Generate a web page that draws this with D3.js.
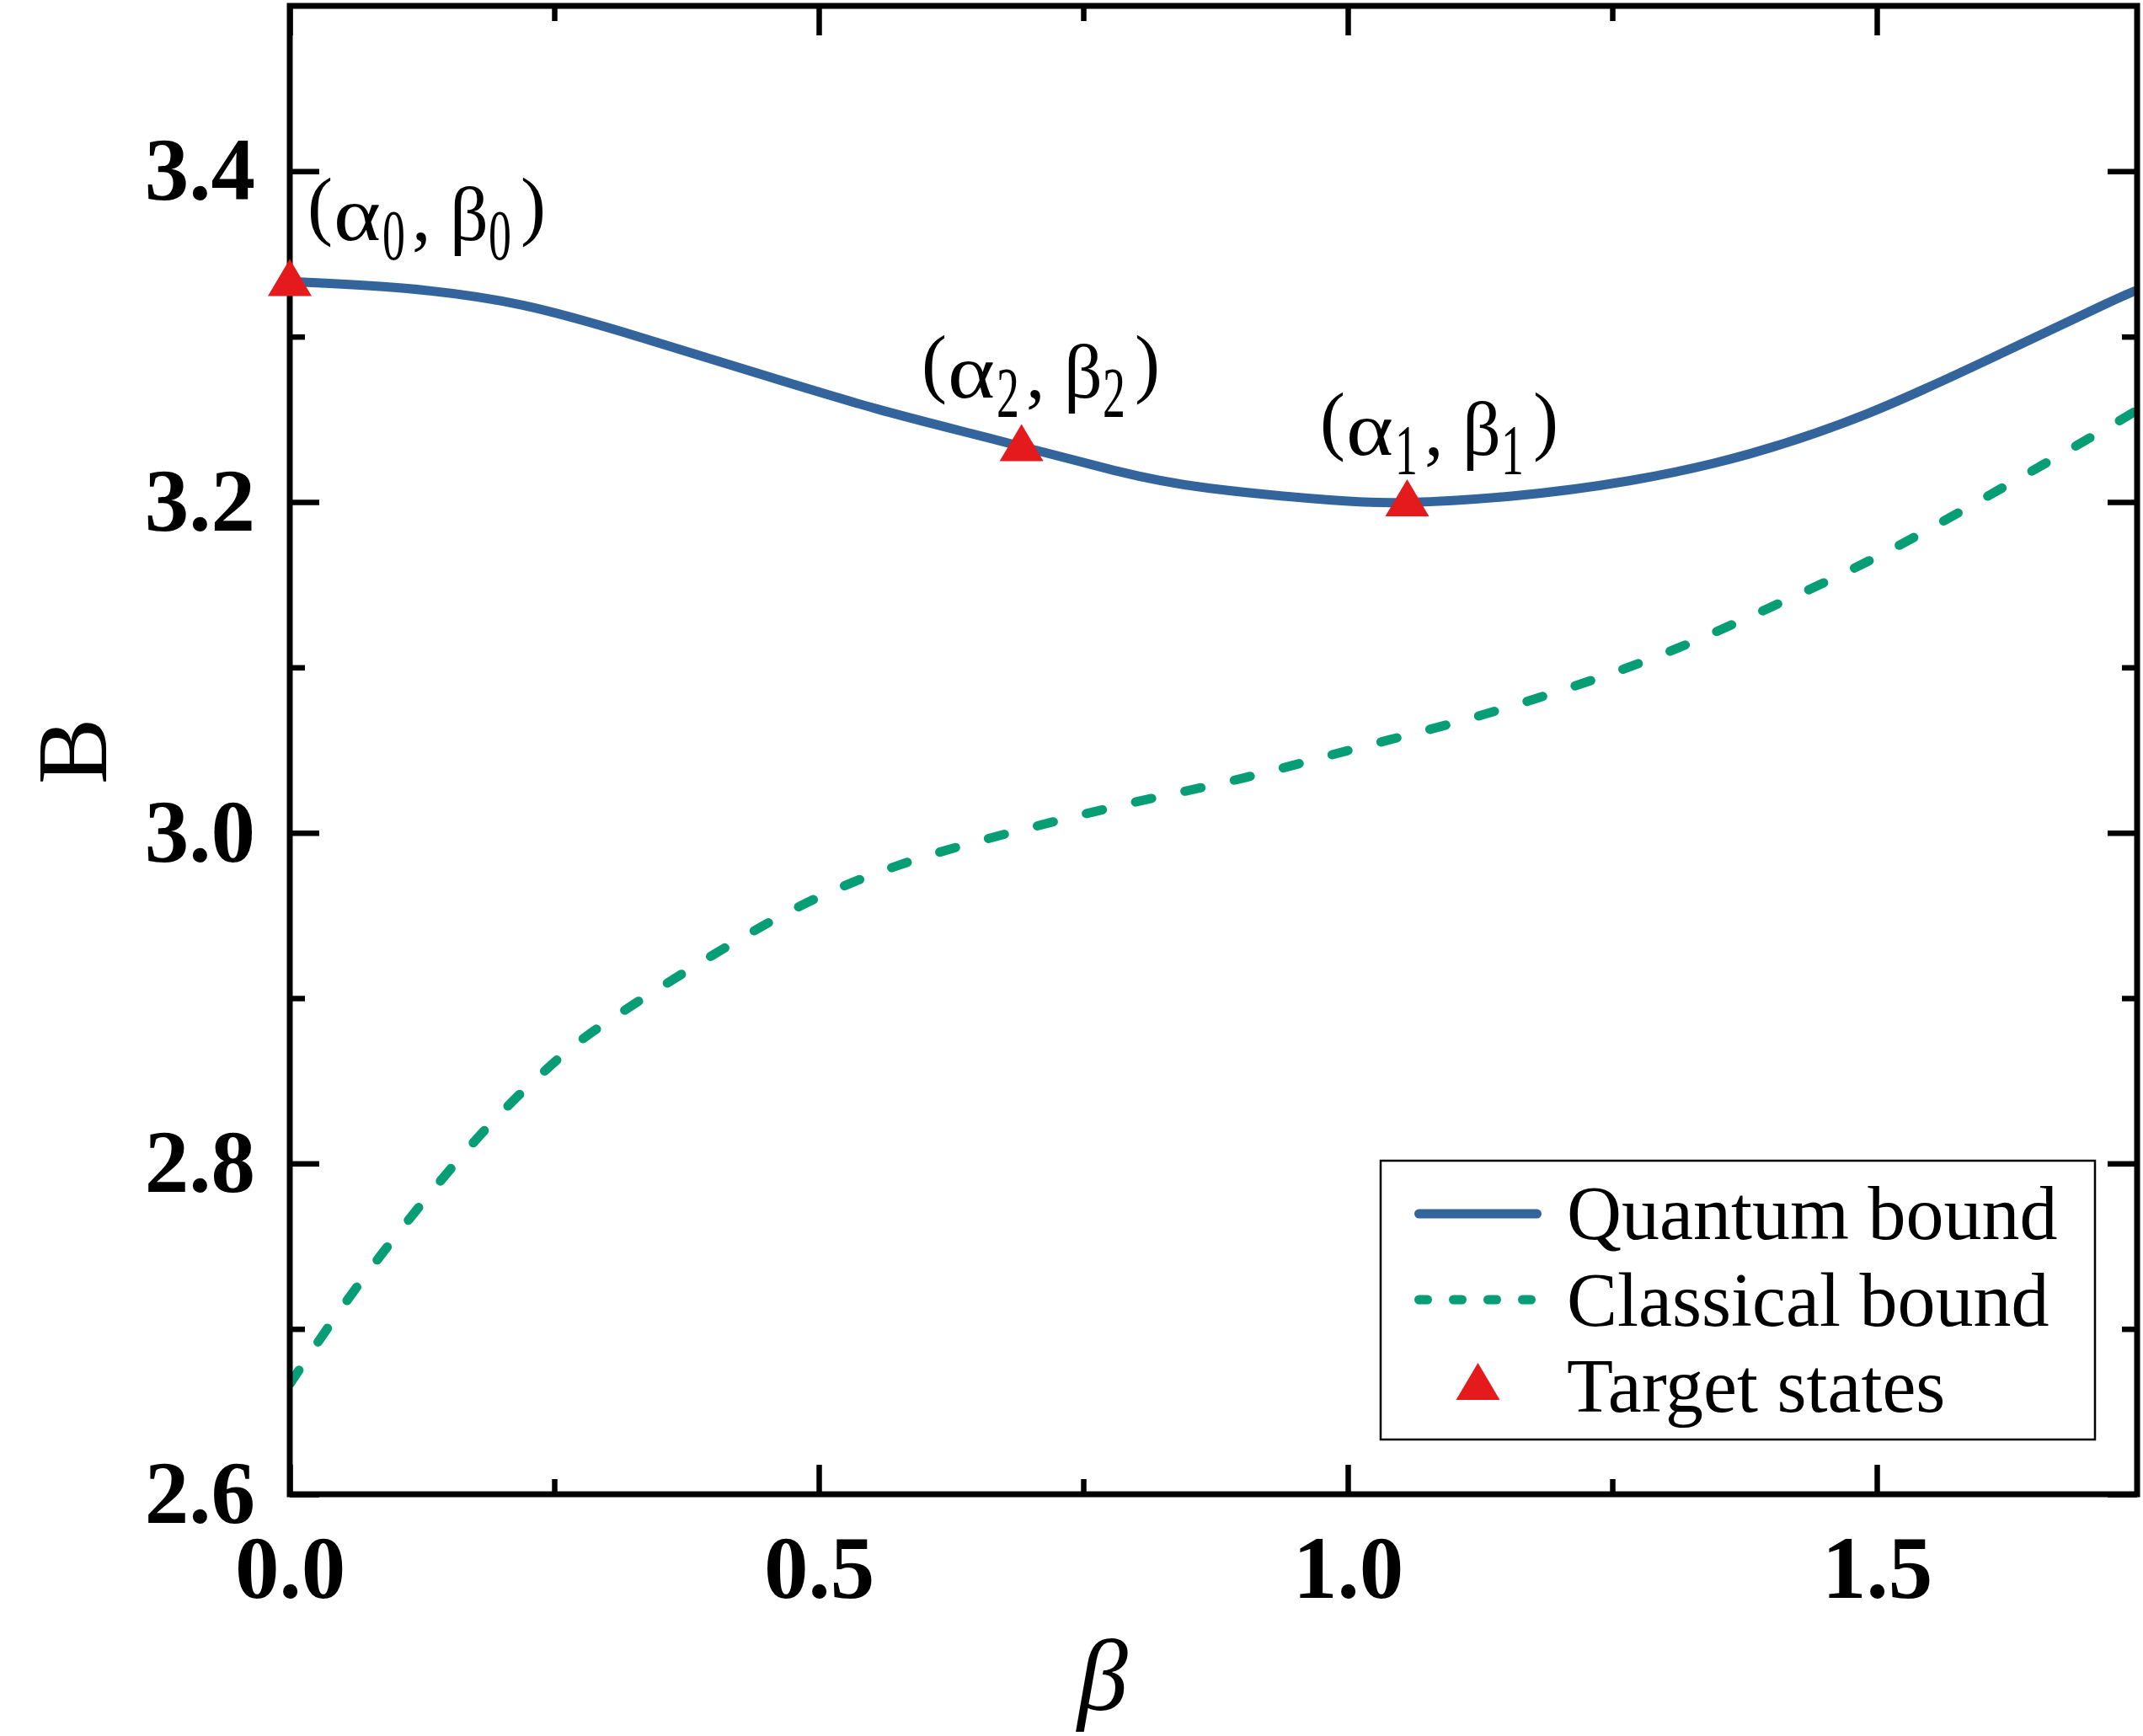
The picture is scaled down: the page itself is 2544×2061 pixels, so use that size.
<!DOCTYPE html>
<html>
<head>
<meta charset="utf-8">
<script src="https://cdn.jsdelivr.net/npm/d3@7"></script>
<style>
  body { margin: 0; background: #fff; }
</style>
</head>
<body>
<div id="chart"></div>
<script>
// values
const quantumBeta = [0, 0.1086, 0.2203, 0.332, 0.4437, 0.5554, 0.666, 0.7788, 0.8683, 0.9853, 1.0561, 1.1549,
  1.2671, 1.3796, 1.4921, 1.6045, 1.7169, 1.746];
const quantumB = [3.3333, 3.3292, 3.319, 3.2995, 3.2775, 3.2562, 3.2378, 3.2192, 3.2084, 3.2011, 3.1997, 3.2036,
  3.213, 3.2291, 3.2537, 3.2859, 3.3199, 3.3281];

const classicalBeta = [0, 0.05, 0.1, 0.15, 0.2, 0.25, 0.3, 0.4, 0.5, 0.6, 0.7, 0.8, 0.9, 1.0, 1.1, 1.2, 1.3, 1.4,
  1.5, 1.6, 1.7, 1.746];
const classicalB = [2.6667, 2.7135, 2.756, 2.7952, 2.8308, 2.8612, 2.8857, 2.9261, 2.9611, 2.9855, 3.0031, 3.0187,
  3.0329, 3.0497, 3.0664, 3.0857, 3.1086, 3.1365, 3.1668, 3.2018, 3.2383, 3.2555];

const targetBeta = [0, 0.6916, 1.0561];
const targetB = [3.3358, 3.2359, 3.2025];
const targetIndex = ["0", "2", "1"];

const xMajor = [0, 0.5, 1.0, 1.5];
const xMinor = [0.25, 0.75, 1.25];
const yMajor = [2.6, 2.8, 3.0, 3.2, 3.4];
const yMinor = [2.7, 2.9, 3.1, 3.3];

const legendNames = ["Quantum bound", "Classical bound", "Target states"];

const W = 2544, H = 2061;
const pLeft = 344, pRight = 2537, pTop = 7, pBottom = 1774;
const blue = "#33659c", green = "#079e76", red = "#e41a1c";
const serif = "'Liberation Serif', 'Times New Roman', serif";

const svg = d3.select("#chart").append("svg")
    .attr("width", W)
    .attr("height", H);

svg.append("rect").attr("width", W).attr("height", H).attr("fill", "#fff");

const x = d3.scaleLinear().domain([0, 1.746]).range([pLeft, pRight]);
const y = d3.scaleLinear().domain([2.6, 3.5]).range([pBottom, pTop]);

svg.append("clipPath").attr("id", "plotclip")
  .append("rect")
    .attr("x", pLeft).attr("y", pTop)
    .attr("width", pRight - pLeft).attr("height", pBottom - pTop);

const line = d3.line()
    .x(d => x(d[0]))
    .y(d => y(d[1]))
    .curve(d3.curveNatural);

const curves = svg.append("g").attr("clip-path", "url(#plotclip)");

curves.append("path")
    .datum(d3.zip(classicalBeta, classicalB))
    .attr("d", line)
    .attr("fill", "none")
    .attr("stroke", green)
    .attr("stroke-width", 11)
    .attr("stroke-linecap", "round")
    .attr("stroke-dasharray", "19.5,40.5");

curves.append("path")
    .datum(d3.zip(quantumBeta, quantumB))
    .attr("d", line)
    .attr("fill", "none")
    .attr("stroke", blue)
    .attr("stroke-width", 11);

// axes with inward ticks on all four sides
function styleAxis(g) {
  g.select(".domain").remove();
  g.selectAll(".tick line").attr("stroke", "#000").attr("stroke-width", 6.5);
  g.selectAll("text")
    .attr("font-family", serif)
    .attr("font-weight", "bold")
    .attr("font-size", 105)
    .attr("fill", "#000");
}

svg.append("g")
    .attr("transform", `translate(0,${pBottom})`)
    .call(d3.axisBottom(x).tickValues(xMajor).tickSize(-35).tickPadding(0).tickFormat(d3.format(".1f")))
    .call(styleAxis)
    .call(g => g.selectAll("text").attr("dy", null).attr("y", 123));

svg.append("g")
    .attr("transform", `translate(0,${pBottom})`)
    .call(d3.axisBottom(x).tickValues(xMinor).tickSize(-18).tickFormat(""))
    .call(styleAxis);

svg.append("g")
    .attr("transform", `translate(0,${pTop})`)
    .call(d3.axisTop(x).tickValues(xMajor).tickSize(-35).tickFormat(""))
    .call(styleAxis);

svg.append("g")
    .attr("transform", `translate(0,${pTop})`)
    .call(d3.axisTop(x).tickValues(xMinor).tickSize(-18).tickFormat(""))
    .call(styleAxis);

svg.append("g")
    .attr("transform", `translate(${pLeft},0)`)
    .call(d3.axisLeft(y).tickValues(yMajor).tickSize(-35).tickPadding(41).tickFormat(d3.format(".1f")))
    .call(styleAxis);

svg.append("g")
    .attr("transform", `translate(${pLeft},0)`)
    .call(d3.axisLeft(y).tickValues(yMinor).tickSize(-18).tickFormat(""))
    .call(styleAxis);

svg.append("g")
    .attr("transform", `translate(${pRight},0)`)
    .call(d3.axisRight(y).tickValues(yMajor).tickSize(-35).tickFormat(""))
    .call(styleAxis);

svg.append("g")
    .attr("transform", `translate(${pRight},0)`)
    .call(d3.axisRight(y).tickValues(yMinor).tickSize(-18).tickFormat(""))
    .call(styleAxis);

// frame
svg.append("rect")
    .attr("x", pLeft).attr("y", pTop)
    .attr("width", pRight - pLeft).attr("height", pBottom - pTop)
    .attr("fill", "none")
    .attr("stroke", "#000")
    .attr("stroke-width", 7);

// axis titles
svg.append("text")
    .attr("transform", "translate(126,892) rotate(-90)")
    .attr("text-anchor", "middle")
    .attr("font-family", serif)
    .attr("font-size", 118)
    .text("B");

svg.append("text")
    .attr("x", 1309).attr("y", 2030)
    .attr("text-anchor", "middle")
    .attr("font-family", serif)
    .attr("font-style", "italic")
    .attr("font-size", 120)
    .text("β");

// target state markers
function triangle(g, cx, cy) {
  g.append("path")
      .attr("d", "M0,-22L26,22L-26,22Z")
      .attr("transform", `translate(${cx},${cy})`)
      .attr("fill", red);
}

const targets = d3.zip(targetBeta, targetB);
const markers = svg.append("g");
targets.forEach(d => triangle(markers, x(d[0]), y(d[1])));

// state labels (α_i, β_i)
const labelPos = [[365, 285], [1094, 472], [1567, 540]];
function stateLabel(g, x0, base, idx) {
  const text = g.append("text")
      .attr("font-family", serif)
      .attr("font-size", 90);
  text.append("tspan").attr("x", x0).attr("y", base - 11).text("(");
  text.append("tspan").attr("x", x0 + 31).attr("y", base)
      .attr("textLength", 56).attr("lengthAdjust", "spacingAndGlyphs").text("α");
  text.append("tspan").attr("x", x0 + 124).attr("y", base).text(", β");
  text.append("tspan").attr("x", x0 + 253).attr("y", base - 11).text(")");
  // narrow, tall subscripts
  [89, 215].forEach(dx => {
    g.append("text")
        .attr("transform", `translate(${x0 + dx},${base + 23}) scale(0.64,1)`)
        .attr("font-family", serif)
        .attr("font-size", 84)
        .text(idx);
  });
}
targetIndex.forEach((idx, i) => stateLabel(svg, labelPos[i][0], labelPos[i][1], idx));

// legend
const lg = svg.append("g");
lg.append("rect")
    .attr("x", 1639).attr("y", 1378)
    .attr("width", 848).attr("height", 331)
    .attr("fill", "#fff")
    .attr("stroke", "#000")
    .attr("stroke-width", 2.5);

const rowY = [1441, 1543, 1640];
const baseY = [1471, 1574, 1676];

lg.append("line")
    .attr("x1", 1684.5).attr("x2", 1824.5)
    .attr("y1", rowY[0]).attr("y2", rowY[0])
    .attr("stroke", blue).attr("stroke-width", 11)
    .attr("stroke-linecap", "round");

lg.append("line")
    .attr("x1", 1684.5).attr("x2", 1824.5)
    .attr("y1", rowY[1]).attr("y2", rowY[1])
    .attr("stroke", green).attr("stroke-width", 11)
    .attr("stroke-linecap", "round")
    .attr("stroke-dasharray", "10,31");

triangle(lg, 1754.5, rowY[2]);

legendNames.forEach((name, i) => {
  lg.append("text")
      .attr("x", 1860).attr("y", baseY[i])
      .attr("font-family", serif)
      .attr("font-size", 90)
      .text(name);
});
</script>
</body>
</html>
